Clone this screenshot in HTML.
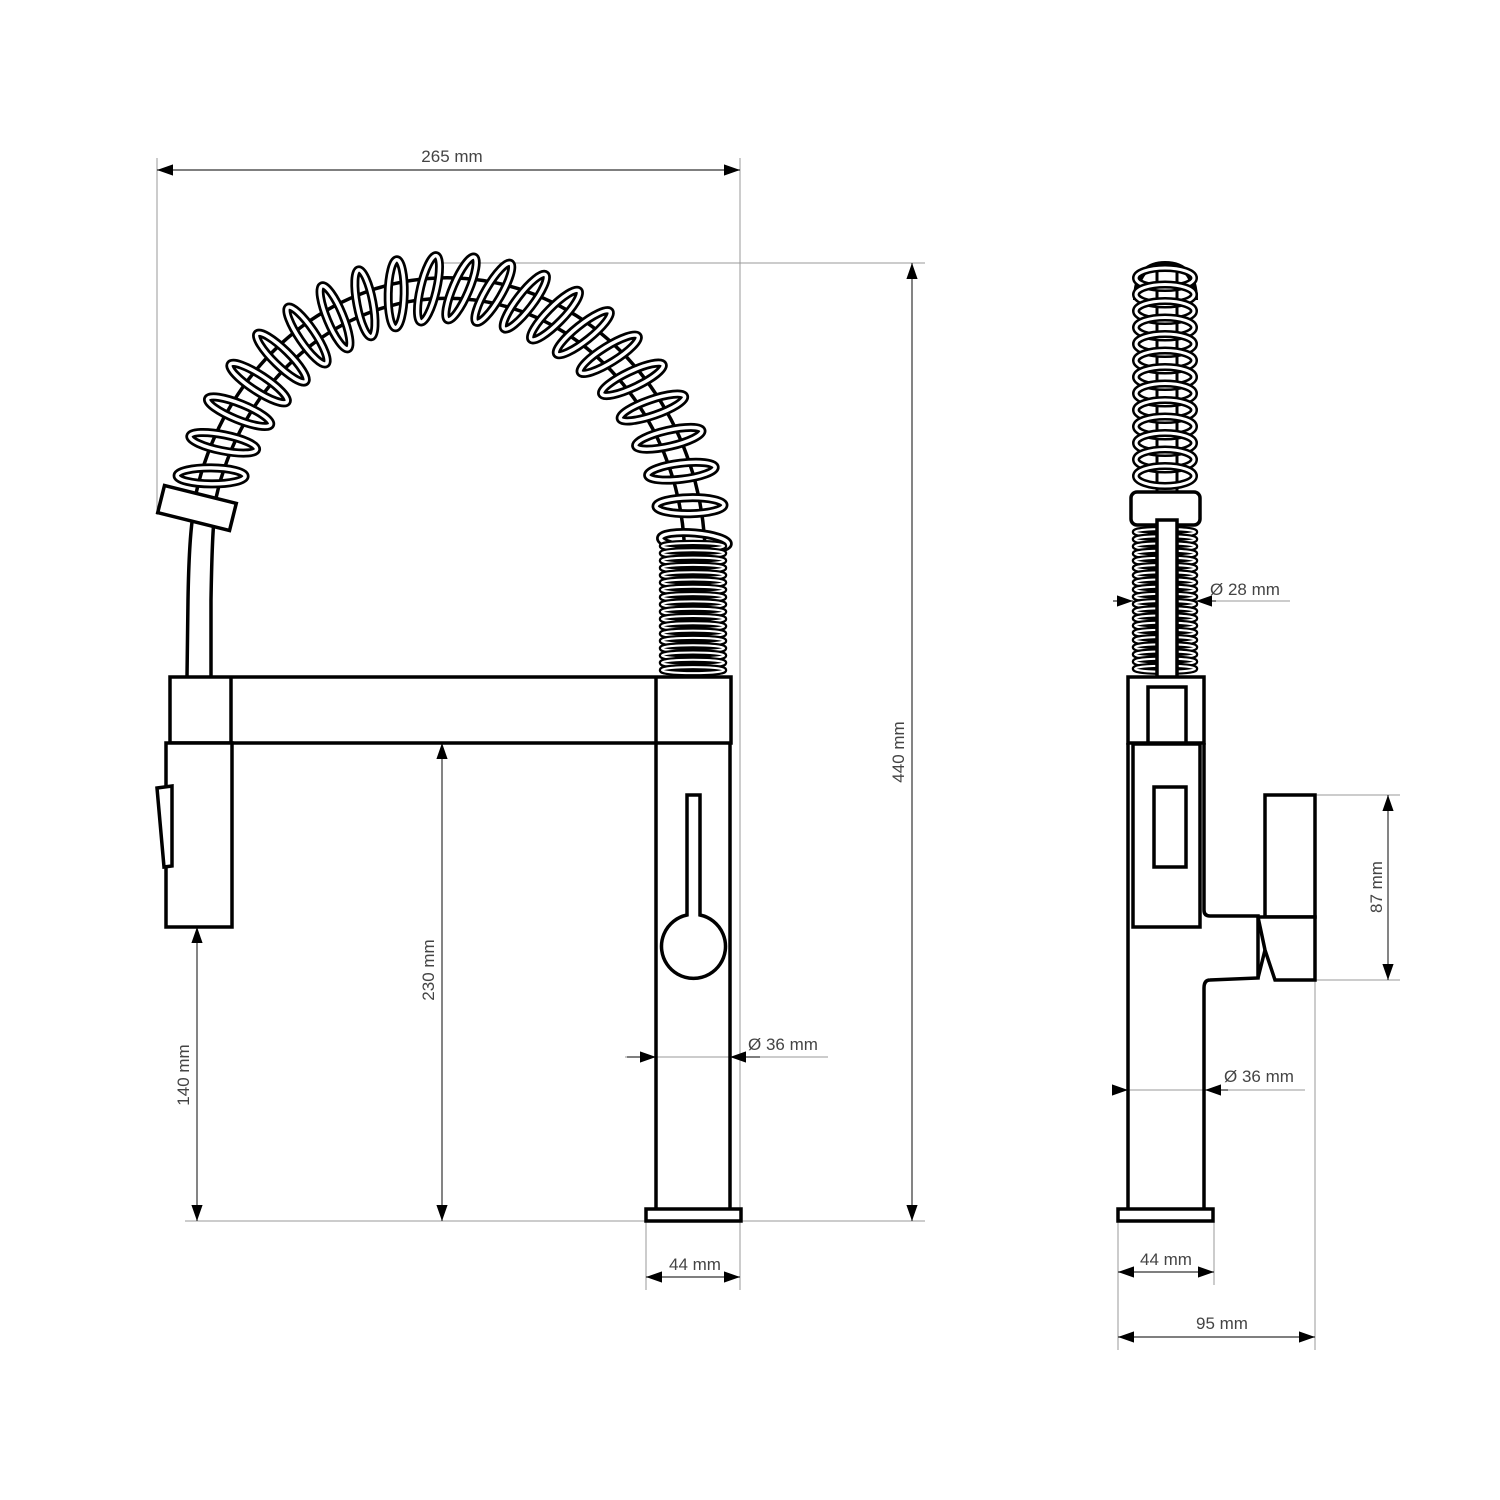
<!DOCTYPE html>
<html><head><meta charset="utf-8"><style>
html,body{margin:0;padding:0;background:#fff}
svg{display:block}
text{font-family:"Liberation Sans",sans-serif;font-size:17px;fill:#444}
</style></head><body>
<svg id="s" width="1500" height="1500" viewBox="0 0 1500 1500" xmlns="http://www.w3.org/2000/svg">
<defs>
<marker id="a" viewBox="0 0 10 10" refX="10" refY="5" markerWidth="16" markerHeight="16" markerUnits="userSpaceOnUse" orient="auto-start-reverse"><path d="M0,1.5 L10,5 L0,8.5 Z" fill="#000"/></marker>
</defs>
<g stroke="#999" stroke-width="1" fill="none">
<line x1="157" y1="158" x2="157" y2="515"/>
<line x1="740" y1="158" x2="740" y2="1290"/>
<line x1="440" y1="263" x2="925" y2="263"/>
<line x1="185" y1="1221" x2="925" y2="1221"/>
<line x1="646" y1="1221" x2="646" y2="1290"/>
<line x1="1118" y1="1221" x2="1118" y2="1350"/>
<line x1="1214" y1="1221" x2="1214" y2="1285"/>
<line x1="1315" y1="980" x2="1315" y2="1350"/>
<line x1="1315" y1="795" x2="1400" y2="795"/>
<line x1="1315" y1="980" x2="1400" y2="980"/>
<line x1="625" y1="1057" x2="828" y2="1057"/>
<line x1="1113" y1="601" x2="1290" y2="601"/>
<line x1="1113" y1="1090" x2="1305" y2="1090"/>
</g>
<g stroke="#333" stroke-width="1.2" fill="none">
<line x1="157" y1="170" x2="740" y2="170" marker-start="url(#a)" marker-end="url(#a)"/>
<line x1="912" y1="263" x2="912" y2="1221" marker-start="url(#a)" marker-end="url(#a)"/>
<line x1="442" y1="743" x2="442" y2="1221" marker-start="url(#a)" marker-end="url(#a)"/>
<line x1="197" y1="927" x2="197" y2="1221" marker-start="url(#a)" marker-end="url(#a)"/>
<line x1="646" y1="1277" x2="740" y2="1277" marker-start="url(#a)" marker-end="url(#a)"/>
<line x1="1118" y1="1272" x2="1214" y2="1272" marker-start="url(#a)" marker-end="url(#a)"/>
<line x1="1118" y1="1337" x2="1315" y2="1337" marker-start="url(#a)" marker-end="url(#a)"/>
<line x1="1388" y1="795" x2="1388" y2="980" marker-start="url(#a)" marker-end="url(#a)"/>
<line x1="627" y1="1057" x2="656" y2="1057" marker-end="url(#a)"/>
<line x1="760" y1="1057" x2="730" y2="1057" marker-end="url(#a)"/>
<line x1="1113" y1="601" x2="1133" y2="601" marker-end="url(#a)"/>
<line x1="1216" y1="601" x2="1196" y2="601" marker-end="url(#a)"/>
<line x1="1113" y1="1090" x2="1128" y2="1090" marker-end="url(#a)"/>
<line x1="1228" y1="1090" x2="1205" y2="1090" marker-end="url(#a)"/>
</g>
<text x="452" y="162" text-anchor="middle">265 mm</text>
<text transform="translate(904,752) rotate(-90)" text-anchor="middle">440 mm</text>
<text transform="translate(434,970) rotate(-90)" text-anchor="middle">230 mm</text>
<text transform="translate(189,1075) rotate(-90)" text-anchor="middle">140 mm</text>
<text x="748" y="1050">Ø 36 mm</text>
<text x="695" y="1270" text-anchor="middle">44 mm</text>
<text x="1210" y="595">Ø 28 mm</text>
<text x="1224" y="1082">Ø 36 mm</text>
<text transform="translate(1382,887) rotate(-90)" text-anchor="middle">87 mm</text>
<text x="1166" y="1265" text-anchor="middle">44 mm</text>
<text x="1222" y="1329" text-anchor="middle">95 mm</text>

<g id="coils"></g>

<g stroke="#000" stroke-width="3.5" fill="none">
<path d="M187,677 L188,600 Q189,540 193,515 M211,677 L211,600 Q212,540 214,520"/>
<rect x="-37" y="-14" width="74" height="28" fill="#fff" transform="translate(197,508) rotate(14)"/>
<rect x="170" y="677" width="561" height="66" fill="#fff"/>
<line x1="231" y1="677" x2="231" y2="743"/>
<line x1="656" y1="677" x2="656" y2="743"/>
<rect x="166" y="743" width="66" height="184" fill="#fff"/>
<path d="M157,788 L172,786 L172,866 L164,867 Z" fill="#fff"/>
<path d="M656,743 L656,1209 M730,743 L730,1209"/>
<rect x="646" y="1209" width="95" height="12" fill="#fff"/>
<path d="M687,915 L687,795 L700,795 L700,915 A32,32 0 1 1 687,915 Z" fill="#fff"/>

<rect x="1128" y="677" width="76" height="66" fill="#fff"/>
<rect x="1148" y="687" width="38" height="56" fill="#fff"/>
<path d="M1128,743 L1128,1209"/>
<path d="M1204,743 L1204,910 Q1204,916 1210,916 L1258,916 L1258,978 L1210,980 Q1204,980 1204,988 L1204,1209"/>
<rect x="1133" y="744" width="67" height="183" fill="#fff"/>
<rect x="1154" y="787" width="32" height="80" fill="#fff"/>
<rect x="1265" y="795" width="50" height="122" fill="#fff"/>
<path d="M1258,917 L1265,917 L1315,917 L1315,980 L1275,980 L1265,950 Z" fill="#fff"/>
<path d="M1258,978 L1265,950" />
<rect x="1118" y="1209" width="95" height="12" fill="#fff"/>
</g>
</svg>
<script>
(function(){
var NS="http://www.w3.org/2000/svg",g=document.getElementById("coils");
function el(t,a){var e=document.createElementNS(NS,t);for(var k in a)e.setAttribute(k,a[k]);g.appendChild(e);return e;}
var cx=447,cy=560,rx=248,ry=272;
function P(t){var r=t*Math.PI/180;return [cx+rx*Math.cos(r),cy-ry*Math.sin(r)];}
var d="";for(var t=168;t>=-2;t-=2){var p=P(t);d+=(d?"L":"M")+p[0].toFixed(1)+","+p[1].toFixed(1);}
d+="L695,675";
el("path",{d:d,stroke:"#000","stroke-width":24,fill:"none"});
el("path",{d:d,stroke:"#fff","stroke-width":17,fill:"none"});
var N=22;
for(var i=0;i<N;i++){
 var t=162-i*(158/(N-1));var p=P(t);
 var p2=P(t+0.5),p1=P(t-0.5);
 var ang=Math.atan2(p1[1]-p2[1],p1[0]-p2[0])*180/Math.PI;
 var off=t>90?(20-35*(t-90)/70):(8+12*t/90);
 var tr="translate("+p[0].toFixed(1)+","+p[1].toFixed(1)+") rotate("+(ang+90+off).toFixed(1)+")";
 el("ellipse",{cx:0,cy:0,rx:34,ry:8,transform:tr,fill:"none",stroke:"#000","stroke-width":9});
 el("ellipse",{cx:0,cy:0,rx:34,ry:8,transform:tr,fill:"none",stroke:"#fff","stroke-width":3.5});
}
for(var y=546;y<=672;y+=7.3){
 el("ellipse",{cx:693,cy:y,rx:31,ry:3,fill:"none",stroke:"#000","stroke-width":6.5});
 el("ellipse",{cx:693,cy:y,rx:31,ry:3,fill:"none",stroke:"#fff","stroke-width":2});
}
el("rect",{x:1157,y:270,width:20,height:250,fill:"#fff",stroke:"#000","stroke-width":3});
el("path",{d:"M1136,300 Q1136,264 1165,264 Q1195,264 1195,300",fill:"none",stroke:"#000","stroke-width":6});
for(var y=278;y<=490;y+=16.5){
 el("ellipse",{cx:1165,cy:y,rx:29,ry:10,fill:"none",stroke:"#000","stroke-width":8});
 el("ellipse",{cx:1165,cy:y,rx:29,ry:10,fill:"none",stroke:"#fff","stroke-width":3});
}
el("rect",{x:1131,y:492,width:69,height:33,rx:6,fill:"#fff",stroke:"#000","stroke-width":3.5});
for(var y=532;y<=674;y+=7.2){
 el("ellipse",{cx:1165,cy:y,rx:30,ry:3,fill:"none",stroke:"#000","stroke-width":6.5});
 el("ellipse",{cx:1165,cy:y,rx:30,ry:3,fill:"none",stroke:"#fff","stroke-width":2});
}
el("rect",{x:1157,y:520,width:20,height:167,fill:"#fff",stroke:"#000","stroke-width":3.5});
})();
</script>
</body></html>
